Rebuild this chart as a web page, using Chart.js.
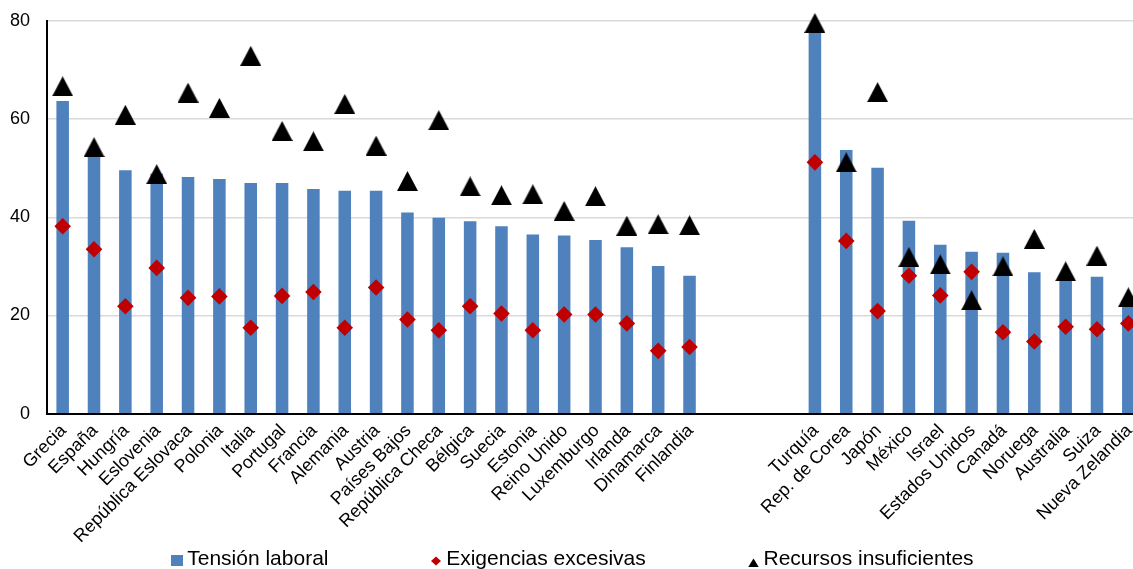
<!DOCTYPE html>
<html lang="es">
<head>
<meta charset="utf-8">
<title>Tensión laboral</title>
<script src="https://cdn.jsdelivr.net/npm/chart.js@4.4.1/dist/chart.umd.min.js"></script>
<style>
    html, body {
        margin: 0;
        padding: 0;
        background: #ffffff;
        overflow: hidden;
    }
    #chartWrap {
        width: 1144px;
        height: 569px;
    }
    #strainChart {
        display: block;
        width: 1144px;
        height: 569px;
    }
</style>
</head>
<body>
<div id="chartWrap">
    <canvas id="strainChart" width="1144" height="569"></canvas>
</div>
<script>
// Countries (three empty slots separate the two groups)
const countries = [
    'Grecia', 'España', 'Hungría', 'Eslovenia', 'República Eslovaca', 'Polonia', 'Italia',
    'Portugal', 'Francia', 'Alemania', 'Austria', 'Países Bajos', 'República Checa', 'Bélgica',
    'Suecia', 'Estonia', 'Reino Unido', 'Luxemburgo', 'Irlanda', 'Dinamarca', 'Finlandia',
    '', '', '',
    'Turquía', 'Rep. de Corea', 'Japón', 'México', 'Israel', 'Estados Unidos', 'Canadá',
    'Noruega', 'Australia', 'Suiza', 'Nueva Zelandia'
];

// Tensión laboral (bars)
const tensionLaboral = [
    63.7, 52.5, 49.6, 48.9, 48.2, 47.8, 47.0, 47.0, 45.8, 45.4, 45.4,
    41.0, 39.9, 39.2, 38.2, 36.5, 36.3, 35.4, 33.9, 30.1, 28.1,
    null, null, null,
    78.0, 53.7, 50.1, 39.3, 34.4, 33.0, 32.8, 28.8, 28.3, 27.9, 23.0
];

// Exigencias excesivas (diamonds)
const exigenciasExcesivas = [
    38.2, 33.5, 21.9, 29.7, 23.6, 23.9, 17.5, 24.0, 24.8, 17.5, 25.7,
    19.2, 17.0, 21.9, 20.4, 17.0, 20.2, 20.2, 18.4, 12.8, 13.6,
    null, null, null,
    51.2, 35.2, 20.9, 28.1, 24.1, 28.9, 16.6, 14.7, 17.7, 17.2, 18.4
];

// Recursos insuficientes (triangles)
const recursosInsuficientes = [
    66.7, 54.3, 60.9, 48.8, 65.4, 62.3, 72.9, 57.6, 55.5, 63.1, 54.6,
    47.4, 59.8, 46.3, 44.5, 44.7, 41.3, 44.3, 38.3, 38.6, 38.4,
    null, null, null,
    79.6, 51.2, 65.5, 31.9, 30.4, 23.1, 30.0, 35.6, 29.0, 32.2, 23.7
];

const seriesNames = ['Tensión laboral', 'Exigencias excesivas', 'Recursos insuficientes'];
const yTicks = [0, 20, 40, 60, 80];

const BLUE = '#4F81BD';
const RED = '#C00000';
const BLACK = '#000000';
const FONT = "'Liberation Sans', Arial, sans-serif";

// Legend placement (drawn by the small plugin below)
const legendLayout = { centerX: 575.4, y: 559.5, iconGap: 10, itemGap: 107.7, fontSize: 21 };

/**
 * Small canvas icons used as point styles.
 * shiftDown moves the drawn shape below the image centre.
 */
function makeIcon(w, h, shiftDown, draw) {
    const c = document.createElement('canvas');
    c.width = w;
    c.height = Math.round(h + 2 * shiftDown);
    const ctx = c.getContext('2d');
    ctx.translate(0, 2 * shiftDown);
    draw(ctx, w, h);
    return c;
}

function triangle(color) {
    return (ctx, w, h) => {
        ctx.fillStyle = color;
        ctx.beginPath();
        ctx.moveTo(w / 2, 0);
        ctx.lineTo(w, h);
        ctx.lineTo(0, h);
        ctx.closePath();
        ctx.fill();
    };
}

function diamond(color) {
    return (ctx, w, h) => {
        ctx.fillStyle = color;
        ctx.beginPath();
        ctx.moveTo(w / 2, 0);
        ctx.lineTo(w, h / 2);
        ctx.lineTo(w / 2, h);
        ctx.lineTo(0, h / 2);
        ctx.closePath();
        ctx.fill();
    };
}

function square(color) {
    return (ctx, w, h) => {
        ctx.fillStyle = color;
        ctx.fillRect(0, 0, w, h);
    };
}

const triangleMarker = makeIcon(21, 20, 0, triangle(BLACK));

const legendIcons = [
    makeIcon(12, 11, 1, square(BLUE)),
    makeIcon(10, 9, 1.3, diamond(RED)),
    makeIcon(11, 9, 2.7, triangle(BLACK))
];

// Legend in one row under the axis labels
const bottomLegend = {
    id: 'bottomLegend',
    afterDraw(chart) {
        const c = chart.ctx;
        c.save();
        c.font = `${legendLayout.fontSize}px ${FONT}`;
        c.fillStyle = BLACK;
        c.textAlign = 'left';
        c.textBaseline = 'middle';

        const items = chart.data.datasets.map((ds, i) => ({
            text: ds.label,
            icon: legendIcons[i],
            width: c.measureText(ds.label).width
        }));
        const total = items.reduce((sum, it) => sum + legendLayout.iconGap + it.width, 0)
            + legendLayout.itemGap * (items.length - 1);

        let x = legendLayout.centerX - total / 2;
        items.forEach(it => {
            c.drawImage(it.icon, Math.round(x - it.icon.width / 2), Math.round(legendLayout.y - it.icon.height / 2));
            c.fillText(it.text, x + legendLayout.iconGap, legendLayout.y);
            x += legendLayout.iconGap + it.width + legendLayout.itemGap;
        });
        c.restore();
    }
};

const ctx = document.getElementById('strainChart').getContext('2d');

new Chart(ctx, {
    type: 'bar',
    data: {
        labels: countries,
        datasets: [
            {
                type: 'bar',
                label: seriesNames[0],
                data: tensionLaboral,
                backgroundColor: BLUE,
                borderWidth: 0,
                barPercentage: 0.4,
                categoryPercentage: 1.0,
                order: 2
            },
            {
                type: 'line',
                label: seriesNames[1],
                data: exigenciasExcesivas,
                showLine: false,
                clip: false,
                pointStyle: 'rectRot',
                pointRadius: 8.3,
                pointHoverRadius: 8.3,
                pointBackgroundColor: RED,
                pointBorderWidth: 0,
                backgroundColor: RED,
                borderColor: RED,
                order: 1
            },
            {
                type: 'line',
                label: seriesNames[2],
                data: recursosInsuficientes,
                showLine: false,
                clip: false,
                pointStyle: triangleMarker,
                pointRadius: 10,
                pointBackgroundColor: BLACK,
                pointBorderWidth: 0,
                backgroundColor: BLACK,
                borderColor: BLACK,
                order: 0
            }
        ]
    },
    options: {
        responsive: false,
        animation: false,
        devicePixelRatio: 1,
        layout: {
            autoPadding: false,
            padding: { top: 21, left: 6, right: 0, bottom: 0 }
        },
        plugins: {
            tooltip: { enabled: false },
            legend: { display: false }
        },
        scales: {
            x: {
                offset: true,
                grid: { display: false, drawTicks: false },
                border: { display: true, color: BLACK, width: 2 },
                ticks: {
                    autoSkip: false,
                    maxRotation: 45,
                    minRotation: 45,
                    padding: 6.5,
                    labelOffset: 1,
                    color: BLACK,
                    font: { family: FONT, size: 18 }
                },
                afterFit: function(scale) {
                    // keep plot bottom at the reference position
                    scale.height = 155.3;
                    scale.paddingLeft = 0;
                    scale.paddingRight = 0;
                }
            },
            y: {
                min: 0,
                max: 80,
                grid: { color: '#d9d9d9', lineWidth: 1.5, drawTicks: false },
                border: { display: true, color: BLACK, width: 2 },
                afterBuildTicks: function(scale) {
                    scale.ticks = yTicks.map(v => ({ value: v }));
                },
                ticks: {
                    padding: 17,
                    color: BLACK,
                    font: { family: FONT, size: 18 }
                },
                afterFit: function(scale) {
                    scale.width = 41;
                    scale.paddingTop = 0;
                    scale.paddingBottom = 0;
                }
            }
        }
    },
    plugins: [bottomLegend]
});
</script>
</body>
</html>
